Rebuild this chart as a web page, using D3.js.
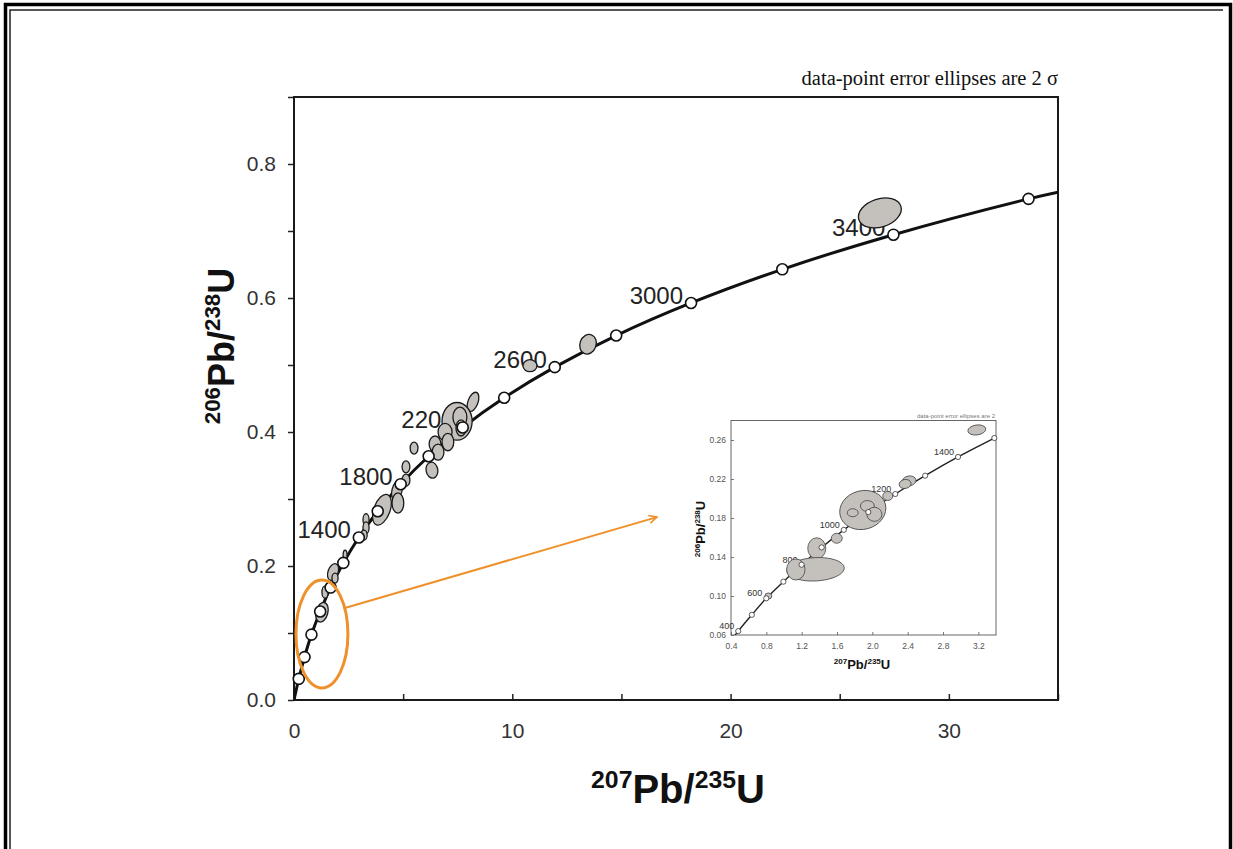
<!DOCTYPE html>
<html>
<head>
<meta charset="utf-8">
<script src="https://cdn.jsdelivr.net/npm/d3@7"></script>
<style>
  body { margin: 0; background: #fff; }
  svg { display: block; }
</style>
</head>
<body>
<svg id="chart" width="1233" height="849"></svg>
<script>
// concordia age marks (Ma) and their ratios
const concAges = [0, 200, 400, 600, 800, 1000, 1200, 1400, 1600, 1800, 2000, 2200, 2400, 2600, 2800, 3000, 3200, 3400, 3600];
const concX = [0, 0.218, 0.482, 0.799, 1.199, 1.677, 2.260, 2.970, 3.835, 4.887, 6.168, 7.729, 9.629, 11.945, 14.76, 18.19, 22.37, 27.46, 33.65];
const concY = [0, 0.0315, 0.0640, 0.0976, 0.1321, 0.1678, 0.2046, 0.2426, 0.2817, 0.3221, 0.3638, 0.4068, 0.4511, 0.4968, 0.5440, 0.5926, 0.6428, 0.6945, 0.7480];
const concEnd = [35, 0.758]; // where the curve leaves the frame
const labelAges = [1400, 1800, 2200, 2600, 3000, 3400];

// data-point error ellipses (centre, half axes in data units, tilt in degrees)
const ellX = [26.84, 13.47, 10.81, 8.20, 7.47, 7.60, 7.65, 6.92, 7.05, 6.46, 6.60, 5.50, 6.32, 5.13, 5.13, 4.72, 4.76, 4.03, 3.30, 3.30, 3.21, 2.34, 1.79, 1.88, 1.42, 1.28];
const ellY = [0.727, 0.531, 0.499, 0.445, 0.416, 0.422, 0.406, 0.400, 0.385, 0.382, 0.370, 0.376, 0.343, 0.348, 0.328, 0.313, 0.294, 0.284, 0.269, 0.257, 0.246, 0.216, 0.191, 0.182, 0.161, 0.131];
const ellSx = [1.01, 0.37, 0.32, 0.23, 0.69, 0.32, 0.23, 0.32, 0.27, 0.27, 0.27, 0.18, 0.27, 0.18, 0.18, 0.23, 0.27, 0.37, 0.14, 0.14, 0.14, 0.09, 0.23, 0.14, 0.14, 0.27];
const ellSy = [0.021, 0.015, 0.009, 0.015, 0.028, 0.015, 0.012, 0.013, 0.013, 0.012, 0.012, 0.009, 0.012, 0.009, 0.009, 0.015, 0.015, 0.024, 0.009, 0.009, 0.0075, 0.0075, 0.013, 0.0075, 0.009, 0.015];
const ellRot = [-18, 20, 0, 20, 0, 0, 0, 0, 0, 0, 0, 0, -10, 0, 0, 15, 0, 20, 0, 0, 0, 0, 20, 0, 0, 15];

const xTicks = [0, 5, 10, 15, 20, 25, 30, 35];
const xTickLabels = ['0', '', '10', '', '20', '', '30', ''];
const yTicks = [0, 0.1, 0.2, 0.3, 0.4, 0.5, 0.6, 0.7, 0.8, 0.9];
const yTickLabels = ['0.0', '', '0.2', '', '0.4', '', '0.6', '', '0.8', ''];

// inset: zoom on the low-age end
const insAges = [300, 400, 500, 600, 700, 800, 900, 1000, 1100, 1200, 1300, 1400, 1500, 1600];
const insConcX = [0.344, 0.482, 0.636, 0.799, 0.993, 1.199, 1.426, 1.677, 1.955, 2.260, 2.598, 2.970, 3.381, 3.835];
const insConcY = [0.0476, 0.0640, 0.0807, 0.0976, 0.1147, 0.1321, 0.1498, 0.1678, 0.1861, 0.2046, 0.2234, 0.2426, 0.2620, 0.2817];
const insLabelAges = [400, 600, 800, 1000, 1200, 1400];
const insX = [3.183, 2.416, 2.371, 2.175, 1.892, 1.778, 1.944, 2.023, 1.597, 1.371, 1.357, 1.134, 0.823];
const insY = [0.2703, 0.2180, 0.2149, 0.2026, 0.1882, 0.1854, 0.1923, 0.1838, 0.1592, 0.1489, 0.1274, 0.1272, 0.1000];
const insSx = [0.102, 0.079, 0.068, 0.057, 0.264, 0.062, 0.079, 0.085, 0.062, 0.102, 0.326, 0.104, 0.040];
const insSy = [0.0051, 0.0051, 0.0046, 0.0046, 0.0198, 0.0041, 0.0056, 0.0072, 0.0051, 0.0108, 0.0120, 0.0108, 0.0031];
const insRot = [-8, -10, -10, 0, -15, 0, 0, 0, 0, 0, -3, 0, 0];
const insXTicks = [0.4, 0.8, 1.2, 1.6, 2.0, 2.4, 2.8, 3.2];
const insYTicks = [0.06, 0.10, 0.14, 0.18, 0.22, 0.26];

const sans = '"Liberation Sans", Arial, sans-serif';
const serif = '"Liberation Serif", "Times New Roman", serif';
const ellFill = '#c4c0bc';

const svg = d3.select('#chart');
svg.append('rect').attr('width', 1233).attr('height', 849).attr('fill', '#fff');

// page frame (open at the bottom)
svg.append('path').attr('d', 'M5.5,849V4.5H1230.5V849')
  .attr('fill', 'none').attr('stroke', '#000').attr('stroke-width', 3.5);
svg.append('path').attr('d', 'M10,849V10H1223')
  .attr('fill', 'none').attr('stroke', '#222').attr('stroke-width', 1.5);

const x = d3.scaleLinear().domain([0, 35]).range([294, 1058]);
const y = d3.scaleLinear().domain([0, 0.9]).range([700, 97]);

// axes
const gx = svg.append('g').attr('transform', 'translate(0,700)')
  .call(d3.axisBottom(x).tickValues(xTicks).tickSize(-6).tickPadding(23)
    .tickFormat((d, i) => xTickLabels[i]));
const gy = svg.append('g').attr('transform', 'translate(294,0)')
  .call(d3.axisLeft(y).tickValues(yTicks).tickSize(6).tickPadding(12)
    .tickFormat((d, i) => yTickLabels[i]));
[gx, gy].forEach(g => {
  g.select('.domain').remove();
  g.selectAll('line').attr('stroke', '#222').attr('stroke-width', 1.5);
  g.selectAll('text').attr('fill', '#333').style('font', '21px ' + sans);
});

svg.append('rect').attr('x', 294).attr('y', 97).attr('width', 764).attr('height', 603)
  .attr('fill', 'none').attr('stroke', '#1a1a1a').attr('stroke-width', 2);

svg.append('text').attr('x', 1058).attr('y', 85).attr('text-anchor', 'end')
  .style('font', '20.5px ' + serif).attr('fill', '#111')
  .text('data-point error ellipses are 2 σ');

// superscripted isotope titles
function isoTitle(g, parts, size) {
  const t = g.append('text').attr('text-anchor', 'middle').attr('font-family', sans)
    .attr('font-weight', 'bold').attr('fill', '#111');
  parts.forEach((p, i) => {
    const sup = i % 2 === 0;
    t.append('tspan').text(p)
      .attr('font-size', sup ? size * 0.62 : size)
      .attr('dy', i === 0 ? -size * 0.38 : (sup ? -size * 0.38 : size * 0.38));
  });
  return t;
}

isoTitle(svg.append('g').attr('transform', 'translate(678,803)'), ['207', 'Pb/', '235', 'U'], 40);
isoTitle(svg.append('g').attr('transform', 'translate(234,346) rotate(-90)'), ['206', 'Pb/', '238', 'U'], 36);

// main plot content
const plot = svg.append('g');
svg.append('clipPath').attr('id', 'mainClip').append('rect')
  .attr('x', 294).attr('y', 97).attr('width', 764).attr('height', 603);

const conc = concAges.map((a, i) => ({ age: a, x: concX[i], y: concY[i] }));
const curvePts = conc.map(d => [d.x, d.y]).concat([concEnd]);

const line = d3.line().x(d => x(d[0])).y(d => y(d[1])).curve(d3.curveCatmullRom.alpha(0.5));
plot.append('path').datum(curvePts).attr('d', line).attr('clip-path', 'url(#mainClip)')
  .attr('fill', 'none').attr('stroke', '#111').attr('stroke-width', 3);

plot.selectAll('.agelabel').data(conc.filter(d => labelAges.includes(d.age))).enter()
  .append('text').attr('class', 'agelabel')
  .attr('x', d => x(d.x) - 8).attr('y', d => y(d.y) + 1).attr('text-anchor', 'end')
  .attr('fill', '#222').style('font', '24px ' + sans).text(d => d.age);

const ells = ellX.map((v, i) => ({ x: v, y: ellY[i], sx: ellSx[i], sy: ellSy[i], r: ellRot[i] }));
plot.selectAll('.ell').data(ells).enter().append('ellipse').attr('class', 'ell')
  .attr('cx', d => x(d.x)).attr('cy', d => y(d.y))
  .attr('rx', d => x(d.x + d.sx) - x(d.x)).attr('ry', d => y(d.y) - y(d.y + d.sy))
  .attr('transform', d => `rotate(${d.r},${x(d.x)},${y(d.y)})`)
  .attr('fill', ellFill).attr('stroke', '#1a1a1a').attr('stroke-width', 1.3);

plot.selectAll('.age').data(conc.filter(d => d.age > 0)).enter().append('circle')
  .attr('class', 'age').attr('cx', d => x(d.x)).attr('cy', d => y(d.y)).attr('r', 5.5)
  .attr('fill', '#fff').attr('stroke', '#111').attr('stroke-width', 1.6);

// orange call-out from the low-age cluster to the inset
const orange = '#ef912b';
svg.append('ellipse').attr('cx', x(1.28)).attr('cy', y(0.0985))
  .attr('rx', x(1.28 + 1.19) - x(1.28)).attr('ry', y(0.0985) - y(0.0985 + 0.0806))
  .attr('fill', 'none').attr('stroke', orange).attr('stroke-width', 3);
svg.append('defs').append('marker').attr('id', 'arr').attr('viewBox', '0 0 10 10')
  .attr('refX', 9).attr('refY', 5).attr('markerWidth', 5).attr('markerHeight', 5)
  .attr('orient', 'auto').append('path').attr('d', 'M1,1L9,5L1,9')
  .attr('fill', 'none').attr('stroke', orange).attr('stroke-width', 1.6);
svg.append('line').attr('x1', x(2.29)).attr('y1', y(0.137)).attr('x2', x(16.63)).attr('y2', y(0.273))
  .attr('stroke', orange).attr('stroke-width', 2).attr('marker-end', 'url(#arr)');

// inset
const ix = d3.scaleLinear().domain([0.4, 3.4]).range([731, 996]);
const iy = d3.scaleLinear().domain([0.06, 0.28]).range([635, 420.5]);
const inset = svg.append('g');
svg.append('clipPath').attr('id', 'insClip').append('rect')
  .attr('x', 731).attr('y', 420.5).attr('width', 265).attr('height', 214.5);

const igx = inset.append('g').attr('transform', 'translate(0,635)')
  .call(d3.axisBottom(ix).tickValues(insXTicks).tickSize(-3).tickPadding(8).tickFormat(d3.format('.1f')));
const igy = inset.append('g').attr('transform', 'translate(731,0)')
  .call(d3.axisLeft(iy).tickValues(insYTicks).tickSize(-3).tickPadding(5).tickFormat(d3.format('.2f')));
[igx, igy].forEach(g => {
  g.select('.domain').remove();
  g.selectAll('line').attr('stroke', '#555').attr('stroke-width', 0.8);
  g.selectAll('text').attr('fill', '#555').style('font', '8.5px ' + sans);
});
inset.append('rect').attr('x', 731).attr('y', 420.5).attr('width', 265).attr('height', 214.5)
  .attr('fill', 'none').attr('stroke', '#666').attr('stroke-width', 1);

inset.append('text').attr('x', 995).attr('y', 418).attr('text-anchor', 'end')
  .attr('fill', '#777').style('font', '6px ' + sans).text('data-point error ellipses are 2');

isoTitle(inset.append('g').attr('transform', 'translate(862,669)'), ['207', 'Pb/', '235', 'U'], 13);
isoTitle(inset.append('g').attr('transform', 'translate(705,529) rotate(-90)'), ['206', 'Pb/', '238', 'U'], 13);

const iconc = insAges.map((a, i) => ({ age: a, x: insConcX[i], y: insConcY[i] }));
const iline = d3.line().x(d => ix(d.x)).y(d => iy(d.y)).curve(d3.curveCatmullRom.alpha(0.5));
inset.append('path').datum(iconc).attr('d', iline).attr('clip-path', 'url(#insClip)')
  .attr('fill', 'none').attr('stroke', '#222').attr('stroke-width', 1.4);

inset.selectAll('.ilabel').data(iconc.filter(d => insLabelAges.includes(d.age))).enter()
  .append('text').attr('class', 'ilabel')
  .attr('x', d => ix(d.x) - 4).attr('y', d => iy(d.y) - 2).attr('text-anchor', 'end')
  .attr('fill', '#333').style('font', '9px ' + sans).text(d => d.age);

const iells = insX.map((v, i) => ({ x: v, y: insY[i], sx: insSx[i], sy: insSy[i], r: insRot[i] }));
inset.selectAll('.iell').data(iells).enter().append('ellipse').attr('class', 'iell')
  .attr('cx', d => ix(d.x)).attr('cy', d => iy(d.y))
  .attr('rx', d => ix(d.x + d.sx) - ix(d.x)).attr('ry', d => iy(d.y) - iy(d.y + d.sy))
  .attr('transform', d => `rotate(${d.r},${ix(d.x)},${iy(d.y)})`)
  .attr('fill', ellFill).attr('stroke', '#444').attr('stroke-width', 0.8);

inset.selectAll('.iage').data(iconc.filter(d => d.age >= 400 && d.age <= 1500)).enter().append('circle')
  .attr('class', 'iage').attr('cx', d => ix(d.x)).attr('cy', d => iy(d.y)).attr('r', 2.6)
  .attr('fill', '#fff').attr('stroke', '#333').attr('stroke-width', 0.8);
</script>
</body>
</html>
